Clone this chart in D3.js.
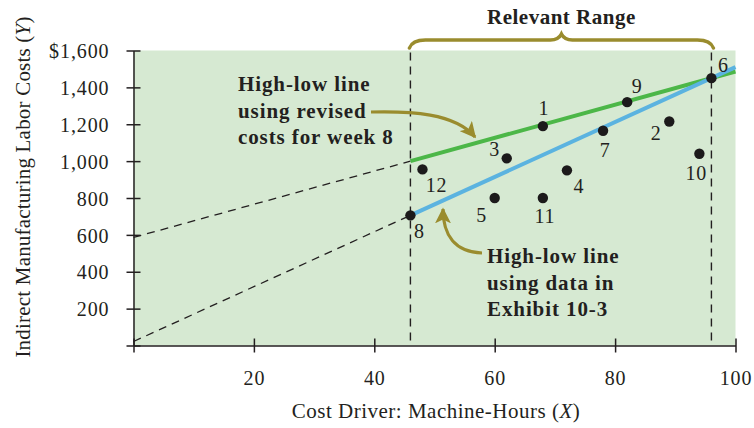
<!DOCTYPE html>
<html>
<head>
<meta charset="utf-8">
<script src="https://cdn.jsdelivr.net/npm/d3@7"></script>
<style>
  html, body { margin: 0; padding: 0; background: #fff; }
  svg { display: block; }
  text { font-family: "Liberation Serif", "Times New Roman", serif; fill: #231f20; }
</style>
</head>
<body>
<svg id="chart" width="754" height="428"></svg>
<script>
// ---------- data ----------
const weeks        = [1, 2, 3, 4, 5, 6, 7, 8, 9, 10, 11, 12];
const machineHours = [68, 89, 62, 72, 60, 96, 78, 46, 82, 94, 68, 48];
const laborCosts   = [1190, 1215, 1015, 950, 800, 1450, 1165, 706, 1320, 1040, 800, 955];
const revisedWeek8Cost = 1000;
const relevantRange = [46, 96];
const xTicks = [0, 20, 40, 60, 80, 100];
const xTickLabels = ["", "20", "40", "60", "80", "100"];
const yTicks = [0, 200, 400, 600, 800, 1000, 1200, 1400, 1600];
const yTickLabels = ["", "200", "400", "600", "800", "1,000", "1,200", "1,400", "$1,600"];

// label placement (layout only)
const labelOffsets = {1:[1,-11], 2:[-13,19], 3:[-12,-2], 4:[12,23], 5:[-13,24], 6:[12,-6],
                      7:[2,26], 8:[9,23], 9:[10,-9], 10:[-3,26], 11:[2,25], 12:[14,23]};

// ---------- setup ----------
const svg = d3.select("#chart");
const x = d3.scaleLinear().domain([0, 100]).range([133.5, 735.5]);
const y = d3.scaleLinear().domain([0, 1600]).range([345.5, 50.5]);

const olive = "#9a8c2e";
const green = "#4cb748";
const blue  = "#5bb3e0";

// plot background
svg.append("rect")
  .attr("x", x(0)).attr("y", y(1600))
  .attr("width", x(100) - x(0)).attr("height", y(0) - y(1600))
  .attr("fill", "#d6e9d2");

// ---------- axes ----------
const yAxis = svg.append("g")
  .attr("transform", `translate(${x(0)},0)`)
  .call(d3.axisLeft(y).tickValues(yTicks).tickSizeOuter(0)
        .tickFormat((d, i) => yTickLabels[i]));
yAxis.selectAll(".tick line").attr("x1", 7).attr("x2", -7).attr("stroke", "#231f20").attr("stroke-width", 1.5);
yAxis.select(".domain").attr("stroke", "#231f20").attr("stroke-width", 1.5);
yAxis.selectAll(".tick text").attr("x", -24).attr("dy", "0.36em")
  .style("font-family", "'Liberation Serif', serif").style("font-size", "20px")
  .style("letter-spacing", "0.9px").attr("fill", "#231f20");

const xAxis = svg.append("g")
  .attr("transform", `translate(0,${y(0)})`)
  .call(d3.axisBottom(x).tickValues(xTicks).tickSizeOuter(0)
        .tickFormat((d, i) => xTickLabels[i]));
xAxis.selectAll(".tick line").attr("y1", -7).attr("y2", 7).attr("stroke", "#231f20").attr("stroke-width", 1.5);
xAxis.select(".domain").attr("stroke", "#231f20").attr("stroke-width", 1.5);
xAxis.selectAll(".tick text").attr("y", 32).attr("dy", "0.36em")
  .style("font-family", "'Liberation Serif', serif").style("font-size", "20px")
  .style("letter-spacing", "0.9px").attr("fill", "#231f20");

// axis titles
const xt = svg.append("text")
  .attr("x", 436).attr("y", 418).attr("text-anchor", "middle")
  .style("font-size", "21px").style("letter-spacing", "0.5px");
xt.append("tspan").text("Cost Driver: Machine-Hours (");
xt.append("tspan").style("font-style", "italic").text("X");
xt.append("tspan").text(")");

const yt = svg.append("text")
  .attr("transform", "translate(30,187) rotate(-90)").attr("text-anchor", "middle")
  .style("font-size", "21px").style("letter-spacing", "0.2px");
yt.append("tspan").text("Indirect Manufacturing Labor Costs (");
yt.append("tspan").style("font-style", "italic").text("Y");
yt.append("tspan").text(")");

// ---------- relevant range ----------
svg.selectAll("line.rr").data(relevantRange).join("line")
  .attr("class", "rr")
  .attr("x1", d => x(d)).attr("x2", d => x(d))
  .attr("y1", y(1600) + 2).attr("y2", y(0))
  .attr("stroke", "#231f20").attr("stroke-width", 1.4)
  .attr("stroke-dasharray", "8,6");

const bx0 = x(relevantRange[0]) - 1, bx1 = x(relevantRange[1]) + 2, bm = (bx0 + bx1) / 2;
svg.append("path")
  .attr("d", `M${bx0},48 Q${bx0+3},40 ${bx0+16},40 L${bm-11},40 Q${bm-3},40 ${bm},34 Q${bm+3},40 ${bm+11},40 L${bx1-16},40 Q${bx1-3},40 ${bx1},48`)
  .attr("fill", "none").attr("stroke", olive).attr("stroke-width", 3.5).attr("stroke-linecap", "round");
svg.append("text").attr("x", bm).attr("y", 24).attr("text-anchor", "middle")
  .style("font-weight", "bold").style("font-size", "21px").style("letter-spacing", "0.5px")
  .text("Relevant Range");

// ---------- high-low lines ----------
const i8 = weeks.indexOf(8), i6 = weeks.indexOf(6);
function lineThrough(x0, y0, x1, y1) {
  const m = (y1 - y0) / (x1 - x0);
  return xv => y0 + m * (xv - x0);
}
const blueF  = lineThrough(machineHours[i8], laborCosts[i8], machineHours[i6], laborCosts[i6]);
const greenF = lineThrough(machineHours[i8], revisedWeek8Cost, machineHours[i6], laborCosts[i6]);

function drawSeg(f, a, b, style) {
  const p = svg.append("line")
    .attr("x1", x(a)).attr("y1", y(f(a)))
    .attr("x2", x(b)).attr("y2", y(f(b)));
  style(p);
}
// dashed extensions
[blueF, greenF].forEach(f => drawSeg(f, 0, relevantRange[0], p =>
  p.attr("stroke", "#231f20").attr("stroke-width", 1.3).attr("stroke-dasharray", "8,6")));
drawSeg(greenF, relevantRange[0], 100, p => p.attr("stroke", green).attr("stroke-width", 4));
drawSeg(blueF, relevantRange[0], 100, p => p.attr("stroke", blue).attr("stroke-width", 4));

// ---------- points ----------
const pts = weeks.map((w, i) => ({ w, h: machineHours[i], c: laborCosts[i] }));
svg.selectAll("circle.pt").data(pts).join("circle")
  .attr("class", "pt")
  .attr("cx", d => x(d.h)).attr("cy", d => y(d.c)).attr("r", 5.2)
  .attr("fill", "#1c1a1b");
svg.selectAll("text.pl").data(pts).join("text")
  .attr("class", "pl")
  .attr("x", d => x(d.h) + labelOffsets[d.w][0])
  .attr("y", d => y(d.c) + labelOffsets[d.w][1])
  .attr("text-anchor", "middle")
  .style("font-size", "20px").style("letter-spacing", "0.8px")
  .text(d => d.w);

// ---------- annotations ----------
const defs = svg.append("defs");
defs.append("marker").attr("id", "ah")
  .attr("viewBox", "0 0 10 10").attr("refX", 9).attr("refY", 5)
  .attr("markerWidth", 5).attr("markerHeight", 5).attr("orient", "auto")
  .attr("markerUnits", "strokeWidth")
  .append("path").attr("d", "M0,0 L10,5 L0,10 L2.5,5 Z").attr("fill", olive);

function block(x0, y0, lines) {
  const t = svg.append("text").style("font-weight", "bold").style("font-size", "21px")
    .style("letter-spacing", "0.9px");
  lines.forEach((s, i) => t.append("tspan").attr("x", x0).attr("y", y0 + i * 26.5).text(s));
}
block(238, 91, ["High-low line", "using revised", "costs for week 8"]);
block(487, 263, ["High-low line", "using data in", "Exhibit 10-3"]);

svg.append("path")
  .attr("d", "M371,112 C410,111 455,113 475,137")
  .attr("fill", "none").attr("stroke", olive).attr("stroke-width", 3.2)
  .attr("marker-end", "url(#ah)");
svg.append("path")
  .attr("d", "M482,253 C455,252 443,235 443,209")
  .attr("fill", "none").attr("stroke", olive).attr("stroke-width", 3.2)
  .attr("marker-end", "url(#ah)");
</script>
</body>
</html>
